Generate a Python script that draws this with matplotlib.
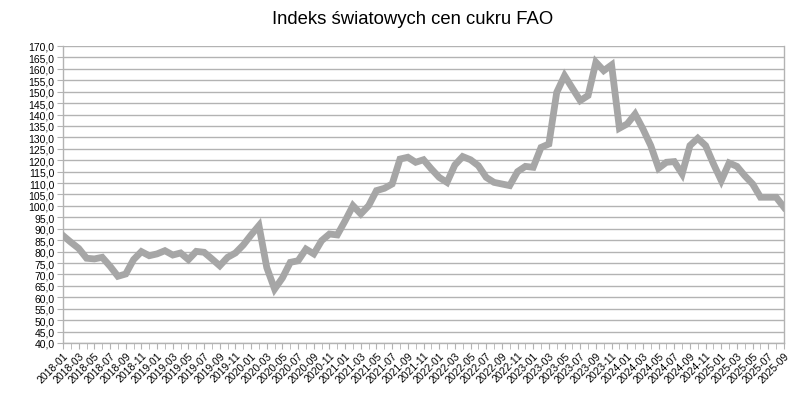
import numpy as np
import matplotlib.pyplot as plt

plt.rcParams['font.family'] = ['Liberation Sans', 'DejaVu Sans']

# monthly FAO sugar price index, 2018-01 .. 2025-09
months = [f"{y}-{m:02d}" for y in range(2018, 2026) for m in range(1, 13)][:93]
values = [
    87.0, 84.1, 81.4, 77.1, 76.8, 77.5, 73.6, 69.2, 70.2, 76.5, 80.0, 78.2,
    79.0, 80.4, 78.5, 79.4, 76.5, 80.1, 79.7, 76.8, 73.8, 77.5, 79.4, 82.9,
    87.3, 91.4, 73.0, 63.6, 68.5, 75.3, 76.0, 81.1, 79.0, 84.8, 87.7, 87.3,
    93.5, 100.1, 96.5, 100.1, 106.7, 107.7, 109.6, 120.5, 121.3, 119.1, 120.2, 116.2,
    112.5, 110.3, 117.9, 121.6, 120.2, 117.6, 112.5, 110.3, 109.6, 108.9, 115.0, 117.3,
    116.9, 125.6, 127.1, 149.7, 157.0, 151.5, 146.1, 148.3, 162.9, 159.2, 161.7, 134.0,
    135.9, 140.2, 133.7, 126.4, 116.5, 119.1, 119.4, 114.0, 126.4, 129.6, 126.4, 118.4,
    111.1, 118.8, 117.3, 113.2, 109.6, 103.8, 103.8, 103.8, 99.4,
]
title = "Indeks światowych cen cukru FAO"

grid_c = "#b3b3b3"
fig = plt.figure(figsize=(8.03, 4.10), dpi=100)
ax = fig.add_axes([0.0785, 0.161, 0.8978, 0.7244])

x = np.arange(len(values))
ax.plot(x, values, color="#a6a6a6", lw=4.9, solid_joinstyle="miter", zorder=3)

ax.set_xlim(0, len(values) - 1)
ax.set_ylim(40, 170)
ax.set_yticks(np.arange(40, 171, 5))
ax.set_yticklabels([f"{v:.1f}".replace(".", ",") for v in np.arange(40, 171, 5)])
ax.set_xticks(x[::2])
ax.set_xticklabels(months[::2], rotation=45, ha="right", rotation_mode="anchor")
ax.set_xticks(x, minor=True)

ax.grid(axis="y", color=grid_c, lw=1.0, zorder=1)
for s in ax.spines.values():
    s.set_color(grid_c)
    s.set_linewidth(1.0)
ax.spines["top"].set_visible(False)
ax.tick_params(axis="both", which="both", color=grid_c, length=4, labelsize=7.5, pad=2)
ax.tick_params(axis="x", which="major", pad=1)

fig.text(0.514, 0.972, title, fontsize=13.3, ha="center", va="top")
fig.savefig("out.png", dpi=100)
